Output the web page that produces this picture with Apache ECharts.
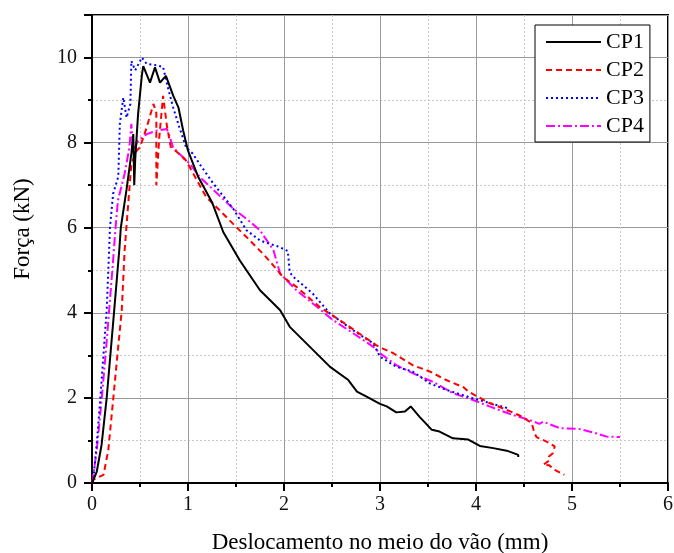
<!DOCTYPE html>
<html><head><meta charset="utf-8">
<script src="https://cdn.jsdelivr.net/npm/echarts@6/dist/echarts.min.js"></script>
<style>html,body{margin:0;padding:0;background:#fff}#c{width:674px;height:553px}</style>
</head><body><div id="c"></div>
<script>
const seriesNames = ['CP1', 'CP2', 'CP3', 'CP4'];
const xTicks = [0, 1, 2, 3, 4, 5, 6];
const yTicks = [0, 2, 4, 6, 8, 10];
const xTitle = 'Deslocamento no meio do vão (mm)';
const yTitle = 'Força (kN)';

const cp1 = [[0,0],[0.05,0.27],[0.10,0.9],[0.153,2.0],[0.229,4.0],[0.284,5.47],[0.30,6.0],[0.36,6.9],[0.41,7.74],[0.43,8.2],[0.44,7.0],[0.45,7.6],[0.48,8.67],[0.52,9.6],[0.534,9.80],[0.57,9.6],[0.604,9.41],[0.656,9.77],[0.708,9.41],[0.77,9.57],[0.847,9.10],[0.90,8.83],[0.95,8.28],[1.0,7.81],[1.107,7.19],[1.25,6.6],[1.367,5.9],[1.54,5.23],[1.75,4.53],[1.89,4.22],[1.96,4.06],[2.06,3.67],[2.27,3.20],[2.48,2.73],[2.67,2.42],[2.76,2.15],[2.86,2.03],[3.0,1.86],[3.07,1.80],[3.17,1.66],[3.26,1.68],[3.32,1.80],[3.41,1.56],[3.54,1.25],[3.62,1.21],[3.76,1.05],[3.92,1.02],[4.04,0.87],[4.18,0.82],[4.32,0.76],[4.44,0.66],[4.44,0.61]];

const cp2 = [[0,0],[0.014,0.08],[0.12,0.19],[0.17,0.78],[0.22,1.95],[0.27,3.13],[0.31,4.06],[0.34,5.47],[0.38,6.64],[0.41,7.50],[0.465,7.81],[0.50,7.89],[0.57,8.36],[0.64,8.91],[0.67,8.7],[0.67,7.0],[0.70,8.1],[0.74,9.1],[0.78,8.4],[0.82,7.9],[0.90,7.75],[0.98,7.58],[1.19,6.72],[1.33,6.41],[1.47,6.09],[1.61,5.78],[1.78,5.39],[1.86,5.19],[1.99,4.84],[2.13,4.61],[2.37,4.14],[2.58,3.83],[2.96,3.24],[3.03,3.16],[3.14,3.05],[3.34,2.77],[3.52,2.62],[3.69,2.42],[3.87,2.25],[3.92,2.15],[4.0,2.05],[4.14,1.88],[4.32,1.72],[4.46,1.58],[4.58,1.41],[4.61,1.17],[4.63,1.08],[4.73,0.98],[4.82,0.86],[4.80,0.70],[4.76,0.62],[4.76,0.52],[4.70,0.43],[4.76,0.42],[4.82,0.31],[4.92,0.19]];

const cp3 = [[0,0],[0.014,0.08],[0.05,0.94],[0.083,1.88],[0.118,2.97],[0.153,4.06],[0.17,5.0],[0.187,6.0],[0.22,6.8],[0.274,7.2],[0.29,8.44],[0.326,9.06],[0.36,8.59],[0.40,8.91],[0.41,9.92],[0.45,9.7],[0.52,10.0],[0.57,9.85],[0.67,9.82],[0.74,9.78],[0.79,9.30],[0.845,8.83],[0.91,8.36],[0.98,7.89],[1.05,7.74],[1.12,7.50],[1.26,7.05],[1.47,6.45],[1.61,5.94],[1.75,5.70],[1.85,5.62],[1.95,5.55],[2.04,5.45],[2.06,4.95],[2.10,4.84],[2.30,4.45],[2.48,3.98],[2.72,3.59],[2.93,3.28],[3.0,2.97],[3.17,2.73],[3.34,2.62],[3.52,2.34],[3.69,2.19],[3.97,1.99],[4.14,1.88],[4.33,1.76],[4.33,1.68]];

const cp4 = [[0,0],[0.007,0.08],[0.05,0.78],[0.10,1.95],[0.146,3.13],[0.187,4.30],[0.22,5.23],[0.24,5.86],[0.27,6.64],[0.34,7.27],[0.39,7.89],[0.41,8.44],[0.43,7.81],[0.48,8.05],[0.57,8.20],[0.67,8.28],[0.78,8.32],[0.81,8.13],[0.845,7.89],[0.91,7.74],[1.02,7.50],[1.12,7.20],[1.26,6.90],[1.47,6.45],[1.63,6.17],[1.75,5.94],[1.89,5.47],[1.96,4.92],[2.13,4.53],[2.30,4.22],[2.51,3.83],[2.72,3.52],[2.93,3.20],[3.0,3.05],[3.17,2.77],[3.38,2.54],[3.55,2.38],[3.76,2.11],[3.97,1.95],[4.14,1.80],[4.38,1.60],[4.56,1.48],[4.66,1.39],[4.70,1.44],[4.87,1.29],[5.08,1.27],[5.25,1.17],[5.36,1.09],[5.50,1.08]];

const dataSets = [cp1, cp2, cp3, cp4];
const colors = ['#000000', '#ff0000', '#0000ff', '#ff00ff'];
const dashes = ['solid', [6, 4], [2, 3], [9, 3, 2, 3]];
const FONT = 'Liberation Serif';

const chart = echarts.init(document.getElementById('c'), null, {renderer: 'canvas'});
chart.setOption({
  animation: false,
  backgroundColor: '#fff',
  grid: {left: 92, right: 6, top: 15, bottom: 70, show: true, borderColor: '#000', borderWidth: 2,
    backgroundColor: 'transparent', outerBoundsMode: 'none', containLabel: false},
  legend: {
    orient: 'vertical', left: 535, top: 25,
    data: seriesNames,
    borderColor: '#000', borderWidth: 1, borderRadius: 0,
    padding: [6, 6, 5, 10], itemWidth: 55, itemHeight: 14, itemGap: 6,
    itemStyle: {color: 'transparent', borderColor: 'transparent', borderWidth: 0, opacity: 0},
    textStyle: {fontFamily: FONT, fontSize: 22, color: '#000'},
    backgroundColor: '#fff'
  },
  graphic: [{
    type: 'text', rotation: Math.PI / 2,
    x: 23, y: 229,
    style: {text: yTitle, font: '23px "Liberation Serif"', fill: '#000', align: 'center', verticalAlign: 'middle'}
  }],
  xAxis: {
    type: 'value', min: xTicks[0], max: xTicks[xTicks.length - 1], interval: 1,
    name: xTitle, nameLocation: 'middle', nameGap: 48,
    nameTextStyle: {fontFamily: FONT, fontSize: 23, color: '#000'},
    axisLine: {show: true, lineStyle: {color: '#000', width: 2}},
    axisTick: {show: true, inside: false, length: 8, lineStyle: {color: '#000', width: 2}},
    minorTick: {show: true, splitNumber: 2, length: 4, lineStyle: {color: '#000', width: 2}},
    axisLabel: {fontFamily: FONT, fontSize: 20, color: '#111', margin: 12},
    splitLine: {show: true, lineStyle: {color: '#999', width: 1}},
    minorSplitLine: {show: true, lineStyle: {color: '#c8c8c8', width: 1, type: [2, 2]}}
  },
  yAxis: {
    type: 'value', min: yTicks[0], max: 11, interval: 2,
    axisLine: {show: true, lineStyle: {color: '#000', width: 2}},
    axisTick: {show: true, inside: false, length: 8, lineStyle: {color: '#000', width: 2}},
    minorTick: {show: true, splitNumber: 2, length: 4, lineStyle: {color: '#000', width: 2}},
    axisLabel: {fontFamily: FONT, fontSize: 20, color: '#111', margin: 15, showMaxLabel: false,
      formatter: v => (yTicks.indexOf(v) >= 0 ? String(v) : '')},
    splitLine: {show: true, lineStyle: {color: '#999', width: 1}},
    minorSplitLine: {show: true, lineStyle: {color: '#c8c8c8', width: 1, type: [2, 2]}}
  },
  series: dataSets.map((d, i) => ({
    name: seriesNames[i], type: 'line', data: d, showSymbol: false, symbol: 'none',
    lineStyle: {color: colors[i], width: 2, type: dashes[i]},
    itemStyle: {color: colors[i]},
    z: 10 - i
  }))
});
</script></body></html>
